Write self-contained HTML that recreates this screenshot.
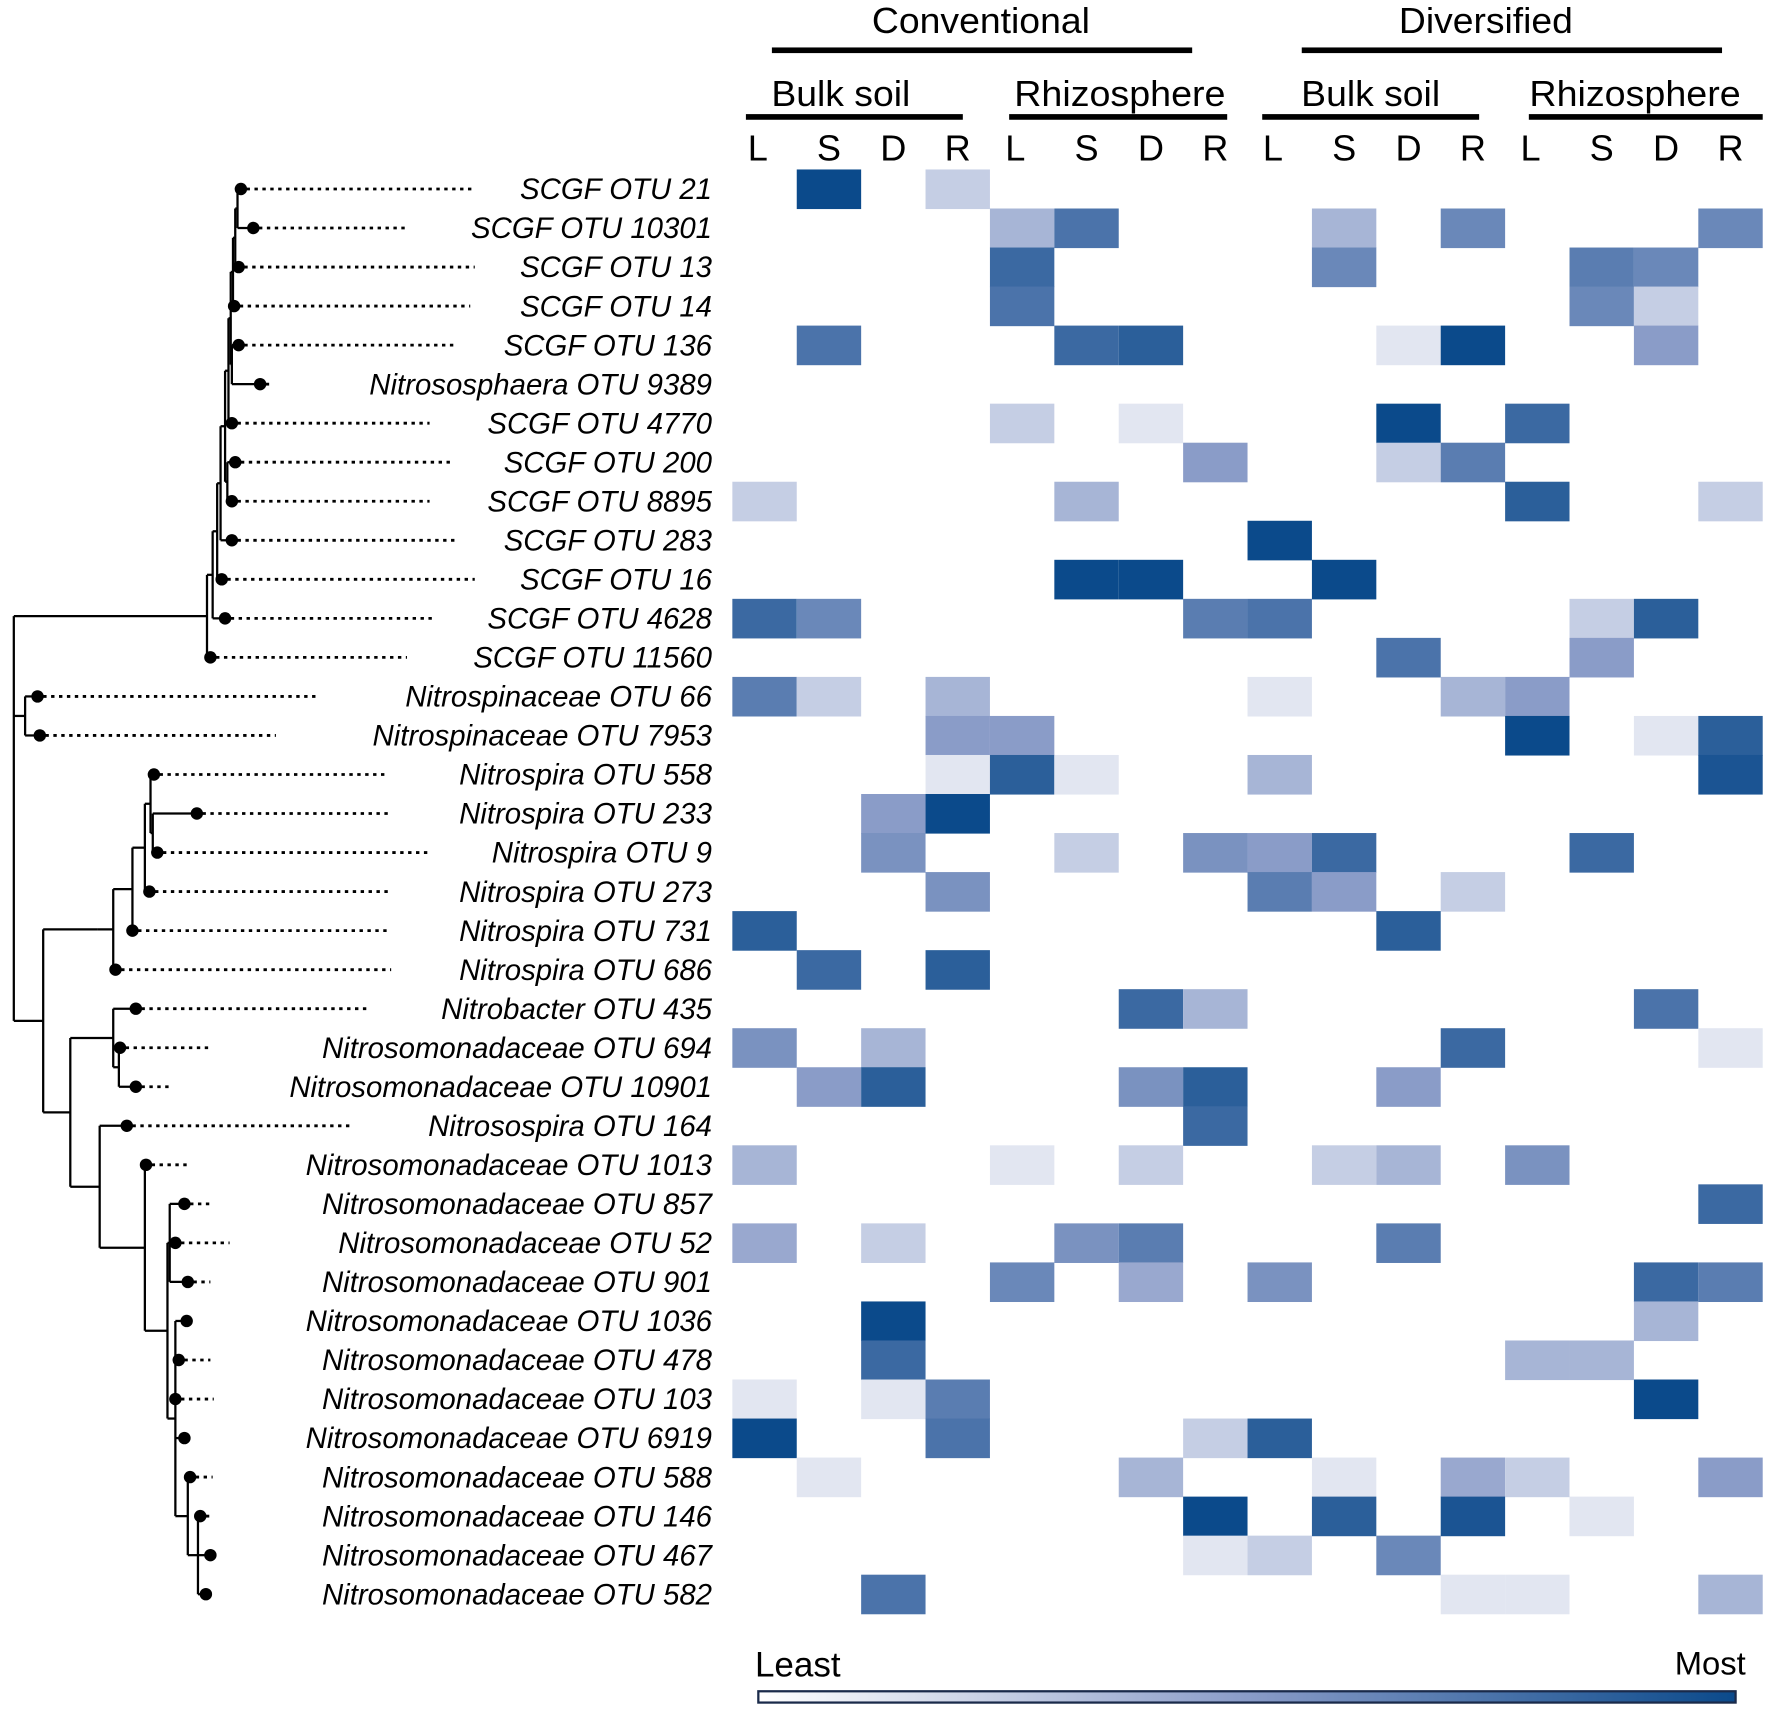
<!DOCTYPE html>
<html><head><meta charset="utf-8">
<style>
html,body{margin:0;padding:0;background:#fff;}
svg{display:block;}
text{font-family:"Liberation Sans",Arial,sans-serif;fill:#000;}
</style></head>
<body>
<svg id="chart" width="1772" height="1715" viewBox="0 0 1568 1518" xmlns="http://www.w3.org/2000/svg">
<defs>
<linearGradient id="cbar" x1="0" x2="1" y1="0" y2="0">
<stop offset="0" stop-color="#ffffff"/><stop offset="0.5" stop-color="#8a9cc8"/><stop offset="1" stop-color="#0b4a8b"/>
</linearGradient>
</defs>
<g>
<text x="868" y="29" font-size="32" text-anchor="middle" textLength="193" lengthAdjust="spacingAndGlyphs">Conventional</text>
<rect x="683" y="42" width="372" height="5" fill="#000"/>
<text x="1315" y="29" font-size="32" text-anchor="middle" textLength="154" lengthAdjust="spacingAndGlyphs">Diversified</text>
<rect x="1152" y="42" width="372" height="5" fill="#000"/>
<text x="744" y="94" font-size="32" text-anchor="middle" textLength="123" lengthAdjust="spacingAndGlyphs">Bulk soil</text>
<rect x="660" y="101" width="192" height="5" fill="#000"/>
<text x="991" y="94" font-size="32" text-anchor="middle" textLength="187" lengthAdjust="spacingAndGlyphs">Rhizosphere</text>
<rect x="893" y="101" width="193" height="5" fill="#000"/>
<text x="1213" y="94" font-size="32" text-anchor="middle" textLength="123" lengthAdjust="spacingAndGlyphs">Bulk soil</text>
<rect x="1117" y="101" width="192" height="5" fill="#000"/>
<text x="1447" y="94" font-size="32" text-anchor="middle" textLength="187" lengthAdjust="spacingAndGlyphs">Rhizosphere</text>
<rect x="1353" y="101" width="207" height="5" fill="#000"/>
</g>
<g id="letters"></g>
<g id="cells"></g>
<g id="labels"></g>
<g id="tree"></g>
<g>
<text x="668" y="1484" font-size="31">Least</text>
<text x="1545" y="1482" font-size="29" text-anchor="end">Most</text>
<rect x="671" y="1497" width="865" height="10" fill="url(#cbar)" stroke="#1a2a4a" stroke-width="2"/>
</g>
</svg>
<script>
const rowLabels = ["SCGF OTU 21","SCGF OTU 10301","SCGF OTU 13","SCGF OTU 14","SCGF OTU 136","Nitrososphaera OTU 9389","SCGF OTU 4770","SCGF OTU 200","SCGF OTU 8895","SCGF OTU 283","SCGF OTU 16","SCGF OTU 4628","SCGF OTU 11560","Nitrospinaceae OTU 66","Nitrospinaceae OTU 7953","Nitrospira OTU 558","Nitrospira OTU 233","Nitrospira OTU 9","Nitrospira OTU 273","Nitrospira OTU 731","Nitrospira OTU 686","Nitrobacter OTU 435","Nitrosomonadaceae OTU 694","Nitrosomonadaceae OTU 10901","Nitrosospira OTU 164","Nitrosomonadaceae OTU 1013","Nitrosomonadaceae OTU 857","Nitrosomonadaceae OTU 52","Nitrosomonadaceae OTU 901","Nitrosomonadaceae OTU 1036","Nitrosomonadaceae OTU 478","Nitrosomonadaceae OTU 103","Nitrosomonadaceae OTU 6919","Nitrosomonadaceae OTU 588","Nitrosomonadaceae OTU 146","Nitrosomonadaceae OTU 467","Nitrosomonadaceae OTU 582"];
const columnLetters = ["L","S","D","R","L","S","D","R","L","S","D","R","L","S","D","R"];
// sparse abundance values per row: [columnIndex, level(0-8)]
const cellValues = [
[[1,8],[3,2]],
[[4,3],[5,6],[9,3],[11,5],[15,5]],
[[4,6.5],[9,5],[13,5.5],[14,5]],
[[4,6],[13,5],[14,2]],
[[1,6],[5,6.5],[6,7],[10,1],[11,8],[14,4]],
[],
[[4,2],[6,1],[10,8],[12,6.5]],
[[7,4],[10,2],[11,5.5]],
[[0,2],[5,3],[12,7],[15,2]],
[[8,8]],
[[5,8],[6,8],[9,8]],
[[0,6.5],[1,5],[7,5.5],[8,6],[13,2],[14,7]],
[[10,6],[13,4]],
[[0,5.5],[1,2],[3,3],[8,1],[11,3],[12,4]],
[[3,4],[4,4],[12,8],[14,1],[15,7]],
[[3,1],[4,7],[5,1],[8,3],[15,7.5]],
[[2,4],[3,8]],
[[2,4.5],[5,2],[7,4.5],[8,4],[9,6.5],[13,6.5]],
[[3,4.5],[8,5.5],[9,4],[11,2]],
[[0,7],[10,7]],
[[1,6.5],[3,7]],
[[6,6.5],[7,3],[14,6]],
[[0,4.5],[2,3],[11,6.5],[15,1]],
[[1,4],[2,7],[6,4.5],[7,7],[10,4]],
[[7,6.5]],
[[0,3],[4,1],[6,2],[9,2],[10,3],[12,4.5]],
[[15,6.5]],
[[0,3.5],[2,2],[5,4.5],[6,5.5],[10,5.5]],
[[4,5],[6,3.5],[8,4.5],[14,6.5],[15,5.5]],
[[2,8],[14,3]],
[[2,6.5],[12,3],[13,3]],
[[0,1],[2,1],[3,5.5],[14,8]],
[[0,8],[3,6],[7,2],[8,7]],
[[1,1],[6,3],[9,1],[11,3.5],[12,2],[15,4]],
[[7,8],[9,7],[11,7.5],[13,1]],
[[7,1],[8,2],[10,5]],
[[2,6],[11,1],[12,1],[15,3]]
];
const tipX = [213,224,211,207,211,230,205,208,205,205,196,199,186,33,35,136,174,139,132,117,102,120,106,120,112,129,163,155,166,165,158,155,163,168,177,186,182];
const tipEnd = [420,362,420,416,404,240,380,402,380,404,420,382,360,282,244,343,347,381,347,344,346,326,188,150,310,165,189,203,186,168,186,189,165,188,187,189,184];

const NS="http://www.w3.org/2000/svg";
const X0=648, CW=57, Y0=150, RH=34.55, MAXV=8;
function colX(c){return X0+c*CW;}
function rowY(r){return Y0+r*RH;}
function color(v){let t=v/MAXV;let a,b;
 if(t<0.5){a=[255,255,255];b=[138,156,200];t=t/0.5;}else{a=[138,156,200];b=[11,74,139];t=(t-0.5)/0.5;}
 return "rgb("+a.map((x,i)=>Math.round(x+(b[i]-x)*t)).join(",")+")";}
function mk(tag,attrs,parent){const e=document.createElementNS(NS,tag);for(const k in attrs)e.setAttribute(k,attrs[k]);parent.appendChild(e);return e;}

const lg=document.getElementById('letters');
columnLetters.forEach((l,i)=>{
 const t=mk('text',{x:colX(i)+CW/2-(i%4===0?6:0),y:142,'font-size':32,'text-anchor':'middle'},lg);
 
 
 t.textContent=l;
});
const cg=document.getElementById('cells');
cellValues.forEach((row,r)=>{row.forEach(([c,v])=>{
 const e=mk('rect',{x:colX(c),y:rowY(r),width:CW,height:RH+0.5,fill:color(v)},cg);
 
 
});});
const lb=document.getElementById('labels');
rowLabels.forEach((s,r)=>{
 const t=mk('text',{x:630,y:rowY(r)+RH/2+9,'font-size':26,'font-style':'italic','text-anchor':'end'},lb);
 
 
 t.textContent=s;
});
const tg=document.getElementById('tree');
function cy(r){return rowY(r)+RH/2;}
rowLabels.forEach((s,r)=>{
 const d=mk('line',{x1:tipX[r]+5,y1:cy(r),x2:tipEnd[r],y2:cy(r),stroke:'#000','stroke-width':2.5,'stroke-dasharray':'3,4'},tg);
 
 
 const c=mk('circle',{cx:tipX[r],cy:cy(r),r:5.5,fill:'#000'},tg);
 
 
});
function T(i){return {tip:i,x:tipX[i]};}
function N(x,ch){return {x:x,ch:ch};}
const tree=N(12,[
 N(183,[N(188,[N(192,[N(195,[N(199,[N(202,[N(204,[N(206,[N(208,[N(210,[T(0),T(1)]),T(2)]),T(3)]),N(205,[T(4),T(5)])]),T(6)]),N(201,[T(7),T(8)])]),T(9)]),T(10)]),T(11)]),T(12)]),
 N(22,[T(13),T(14)]),
 N(38,[
  N(86,[N(100,[N(117,[N(128,[N(133,[T(15),N(135,[T(16),T(17)])]),T(18)]),T(19)]),T(20)])]),
  N(62,[N(100,[T(21),N(105,[T(22),T(23)])]),
   N(88,[T(24),N(128,[T(25),N(148,[N(150,[T(26),T(27),T(28)]),N(155,[T(29),T(30),T(31),T(32),N(166,[T(33),N(175,[T(34),T(35),T(36)])])])])])])])
 ])
]);
function ny(n){if(n.tip!==undefined)return cy(n.tip);const ys=n.ch.map(ny);return (ys[0]+ys[ys.length-1])/2;}
let k=0;
function draw(n){
 if(n.tip!==undefined)return;
 const ys=n.ch.map(ny);
 const v=mk('line',{x1:n.x,y1:ys[0],x2:n.x,y2:ys[ys.length-1],stroke:'#000','stroke-width':2},tg);
 
 
 n.ch.forEach((c,i)=>{
  const h=mk('line',{x1:n.x,y1:ys[i],x2:c.x,y2:ys[i],stroke:'#000','stroke-width':2},tg);
  
  
 });
 k++;
 n.ch.forEach(draw);
}
draw(tree);
</script>
</body></html>
